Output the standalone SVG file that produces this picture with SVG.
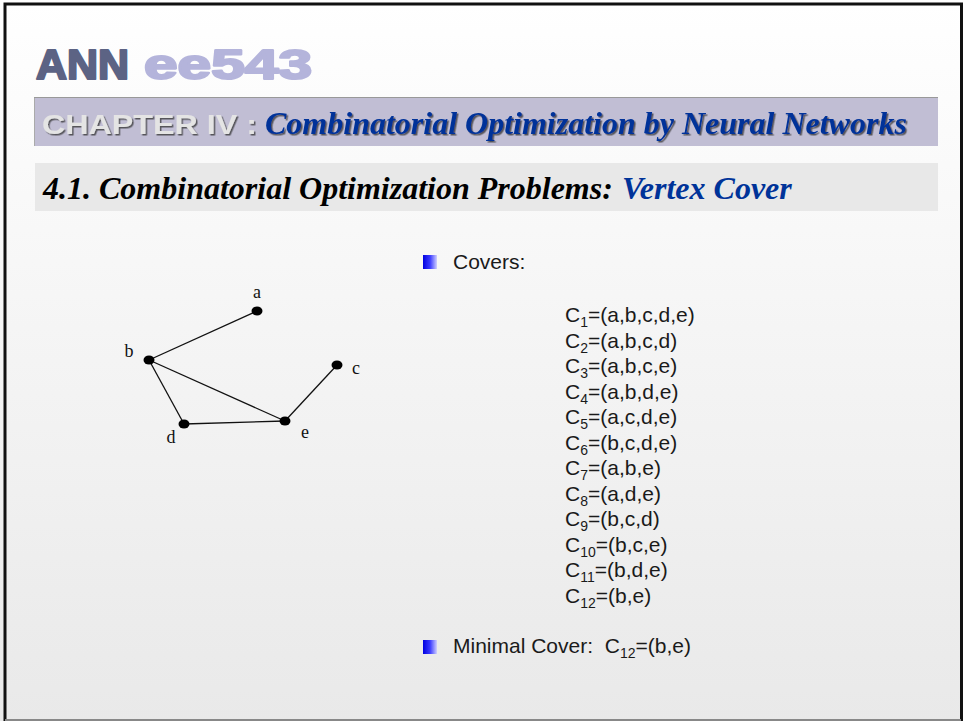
<svg xmlns="http://www.w3.org/2000/svg" width="963" height="721" viewBox="0 0 963 721">
<defs>
<linearGradient id="bg" x1="0" y1="0" x2="0" y2="1">
<stop offset="0" stop-color="#ffffff"/>
<stop offset="1" stop-color="#e9e9e9"/>
</linearGradient>
<linearGradient id="bul" x1="0" y1="0" x2="1" y2="0">
<stop offset="0" stop-color="#0000e0"/>
<stop offset="0.5" stop-color="#3a3aff"/>
<stop offset="1" stop-color="#d0d0ff"/>
</linearGradient>
<filter id="sh" x="-5%" y="-20%" width="110%" height="150%">
<feDropShadow dx="1.5" dy="1.5" stdDeviation="0.6" flood-color="#333" flood-opacity="0.75"/>
</filter>
</defs>
<style>
.lbl{font-family:"Liberation Serif","Times New Roman",serif;font-size:18px;fill:#111}
.txt{font-family:"Liberation Sans",Arial,sans-serif;font-size:21px;fill:#1a1a1a}
.sub{font-size:14px}
.edge{stroke:#111;stroke-width:1.3;fill:none}
.node{fill:#000}
.hd{font-family:"Liberation Serif","Times New Roman",serif;font-weight:bold;font-style:italic}
.logo{font-family:"Liberation Sans",Arial,sans-serif;font-weight:bold;font-size:42px;stroke-width:2.2;stroke-linejoin:round}
</style>
<rect x="0" y="0" width="963" height="721" fill="url(#bg)"/>
<path d="M5,721 V4 H961.5 V721" fill="none" stroke="#111" stroke-width="3"/>
<line x1="5" y1="720" x2="961" y2="720" stroke="#888" stroke-width="2"/>

<g id="logo">
<text class="logo" x="36" y="79" fill="#5c6384" stroke="#5c6384" textLength="93" lengthAdjust="spacingAndGlyphs">ANN</text>
<text class="logo" x="144" y="79" fill="#b4b4db" stroke="#b4b4db" textLength="168" lengthAdjust="spacingAndGlyphs">ee543</text>
</g>

<g id="chapter">
<rect x="34" y="98" width="904" height="48" fill="#c1bed4"/>
<line x1="34" y1="97.5" x2="938" y2="97.5" stroke="#999" stroke-width="1"/>
<line x1="34.5" y1="98" x2="34.5" y2="146" stroke="#aaa" stroke-width="1"/>
<text x="42" y="134" font-family="Liberation Sans,Arial,sans-serif" font-weight="bold" font-size="28" fill="#e4e4e4" filter="url(#sh)" textLength="215" lengthAdjust="spacingAndGlyphs">CHAPTER IV :</text>
<text class="hd" x="265" y="134" font-size="32" fill="#003399" filter="url(#sh)">Combinatorial Optimization by Neural Networks</text>
</g>

<g id="section">
<rect x="35" y="163" width="903" height="48" fill="#e8e8e8"/>
<text class="hd" x="43" y="199" font-size="32" fill="#000">4.1. Combinatorial Optimization Problems:</text>
<text class="hd" x="622" y="199" font-size="32" fill="#003399">Vertex Cover</text>
</g>

<g id="connectors">
<line class="edge" x1="149" y1="360" x2="257" y2="311"/>
<line class="edge" x1="149" y1="360" x2="285" y2="421"/>
<line class="edge" x1="149" y1="360" x2="184" y2="424"/>
<line class="edge" x1="184" y1="424" x2="285" y2="421"/>
<line class="edge" x1="285" y1="421" x2="337" y2="365"/>
</g>

<g id="node-a"><ellipse class="node" cx="257" cy="311" rx="5.5" ry="4.5"/><text class="lbl" x="257" y="298" text-anchor="middle">a</text></g>
<g id="node-b"><ellipse class="node" cx="149" cy="360" rx="5.5" ry="4.5"/><text class="lbl" x="129" y="357" text-anchor="middle">b</text></g>
<g id="node-c"><ellipse class="node" cx="337" cy="365" rx="5.5" ry="4.5"/><text class="lbl" x="356" y="374" text-anchor="middle">c</text></g>
<g id="node-d"><ellipse class="node" cx="184" cy="424" rx="5.5" ry="4.5"/><text class="lbl" x="171" y="443" text-anchor="middle">d</text></g>
<g id="node-e"><ellipse class="node" cx="285" cy="421" rx="5.5" ry="4.5"/><text class="lbl" x="305" y="438" text-anchor="middle">e</text></g>

<g id="covers">
<rect x="423" y="255" width="14" height="14" fill="url(#bul)"/>
<text class="txt" x="453" y="269">Covers:</text>
<text class="txt" x="565" y="322">C<tspan class="sub" dy="5">1</tspan><tspan dy="-5">=(a,b,c,d,e)</tspan></text>
<text class="txt" x="565" y="347.5">C<tspan class="sub" dy="5">2</tspan><tspan dy="-5">=(a,b,c,d)</tspan></text>
<text class="txt" x="565" y="373">C<tspan class="sub" dy="5">3</tspan><tspan dy="-5">=(a,b,c,e)</tspan></text>
<text class="txt" x="565" y="398.5">C<tspan class="sub" dy="5">4</tspan><tspan dy="-5">=(a,b,d,e)</tspan></text>
<text class="txt" x="565" y="424">C<tspan class="sub" dy="5">5</tspan><tspan dy="-5">=(a,c,d,e)</tspan></text>
<text class="txt" x="565" y="449.5">C<tspan class="sub" dy="5">6</tspan><tspan dy="-5">=(b,c,d,e)</tspan></text>
<text class="txt" x="565" y="475">C<tspan class="sub" dy="5">7</tspan><tspan dy="-5">=(a,b,e)</tspan></text>
<text class="txt" x="565" y="500.5">C<tspan class="sub" dy="5">8</tspan><tspan dy="-5">=(a,d,e)</tspan></text>
<text class="txt" x="565" y="526">C<tspan class="sub" dy="5">9</tspan><tspan dy="-5">=(b,c,d)</tspan></text>
<text class="txt" x="565" y="551.5">C<tspan class="sub" dy="5">10</tspan><tspan dy="-5">=(b,c,e)</tspan></text>
<text class="txt" x="565" y="577">C<tspan class="sub" dy="5">11</tspan><tspan dy="-5">=(b,d,e)</tspan></text>
<text class="txt" x="565" y="602.5">C<tspan class="sub" dy="5">12</tspan><tspan dy="-5">=(b,e)</tspan></text>
</g>

<g id="minimal">
<rect x="423" y="640" width="14" height="14" fill="url(#bul)"/>
<text class="txt" x="453" y="653" xml:space="preserve">Minimal Cover:  C<tspan class="sub" dy="5">12</tspan><tspan dy="-5">=(b,e)</tspan></text>
</g>
</svg>
